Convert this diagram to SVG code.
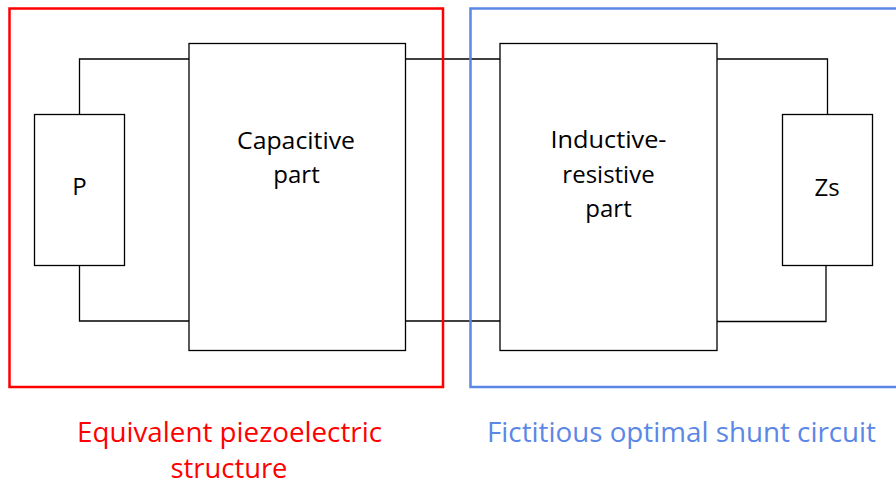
<svg xmlns="http://www.w3.org/2000/svg" width="896" height="485" viewBox="0 0 896 485">
<style>
.box{fill:#fff;stroke:#000;stroke-width:1.3}
.wire{fill:none;stroke:#000;stroke-width:1.3}
.t{font-family:"Open Sans","Liberation Sans",sans-serif;font-size:24px;fill:#000;text-anchor:middle}
.lbl{font-family:"Open Sans","Liberation Sans",sans-serif;font-size:27px;text-anchor:middle}
</style>
<rect width="896" height="485" fill="#fff"/>
<g id="connectors">
<polyline class="wire" points="189,59 79.5,59 79.5,114.5"/>
<polyline class="wire" points="79.5,265.5 79.5,321 189,321"/>
<line class="wire" x1="405.5" y1="59" x2="500" y2="59"/>
<line class="wire" x1="405.5" y1="321" x2="500" y2="321"/>
<polyline class="wire" points="717,59 827.5,59 827.5,114.5"/>
<polyline class="wire" points="826,265.5 826,321.5 717,321.5"/>
</g>
<g id="equivalent-structure">
<rect x="9.5" y="8.5" width="433.5" height="378.5" fill="none" stroke="#FF0000" stroke-width="2.5"/>
<text class="lbl" x="229.5" y="442" fill="#FF0000" textLength="305" lengthAdjust="spacingAndGlyphs">Equivalent piezoelectric</text>
<text class="lbl" x="229" y="478" fill="#FF0000" textLength="117" lengthAdjust="spacingAndGlyphs">structure</text>
</g>
<g id="shunt-circuit">
<rect x="470.5" y="8.5" width="440" height="378.5" fill="none" stroke="#5B87E6" stroke-width="2.5"/>
<text class="lbl" x="681.5" y="442" fill="#5B87E6" textLength="389" lengthAdjust="spacingAndGlyphs">Fictitious optimal shunt circuit</text>
</g>
<g id="P">
<rect class="box" x="34.5" y="114.5" width="90" height="151"/>
<text class="t" x="79.5" y="195">P</text>
</g>
<g id="capacitive">
<rect class="box" x="189" y="43.5" width="216.5" height="307"/>
<text class="t" x="296" y="149" textLength="118" lengthAdjust="spacingAndGlyphs">Capacitive</text>
<text class="t" x="296.5" y="183">part</text>
</g>
<g id="inductive">
<rect class="box" x="500" y="43.5" width="217" height="307"/>
<text class="t" x="608.5" y="148" textLength="116" lengthAdjust="spacingAndGlyphs">Inductive-</text>
<text class="t" x="608.5" y="182.5">resistive</text>
<text class="t" x="608.5" y="217">part</text>
</g>
<g id="Zs">
<rect class="box" x="782.5" y="114.5" width="90" height="151"/>
<text class="t" x="827" y="196">Zs</text>
</g>
</svg>
